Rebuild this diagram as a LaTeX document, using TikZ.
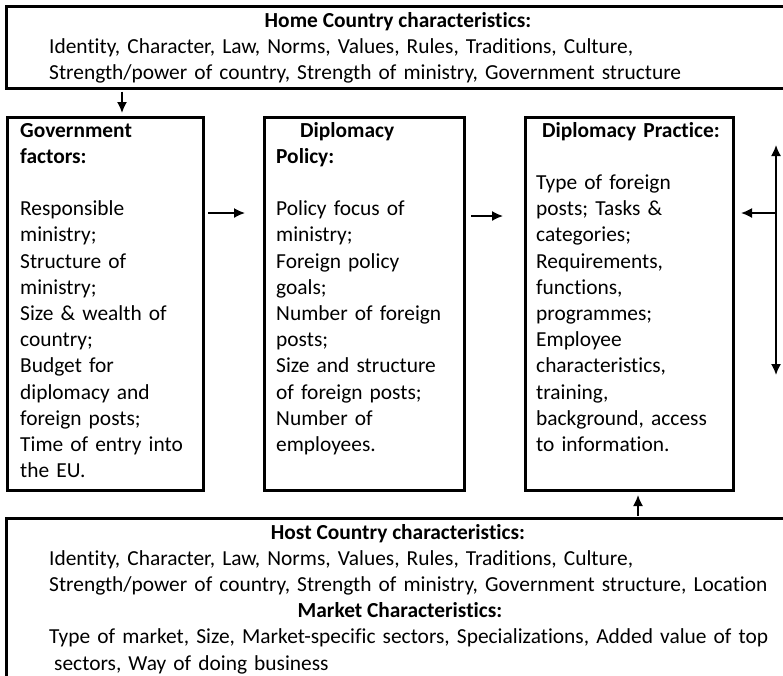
\documentclass[tikz,border=0pt]{standalone}
\usepackage{fontspec}
\setmainfont{Carlito}[Ligatures={NoCommon}]
\usetikzlibrary{shapes,arrows,arrows.meta}

\begin{document}
\begin{tikzpicture}[x=1pt,y=1pt,
                every path/.style={>={Latex[length=11pt,width=10pt]}},
                box/.style={draw,line width=3pt,anchor=north west,inner sep=0pt},
                txt/.style={anchor=base west,inner sep=0pt,align=left,text width=250pt,
                            font=\fontsize{21.4}{26.2}\selectfont},
                link/.style={->,line width=1.6pt}]
  \useasboundingbox (0,0) rectangle (783,-675);
  \node[box,minimum width=790,minimum height=82]  (home) at (5,-5)     {};
  \node[box,minimum width=196,minimum height=373] (gov)  at (6,-116)   {};
  \node[box,minimum width=200,minimum height=373] (pol)  at (263,-116) {};
  \node[box,minimum width=208,minimum height=373] (prac) at (524,-116) {};
  \node[box,minimum width=790,minimum height=200] (host) at (5,-517)   {};

  \node[txt,text width=,anchor=base] (hometitle) at (398,-27) {\textbf{Home Country characteristics:}};
  \node[txt,text width=740pt] (hometext) at (49,-53)
    {Identity, Character, Law, Norms, Values, Rules, Traditions, Culture,\\
     Strength/power of country, Strength of ministry, Government structure};

  \node[txt] (govtext) at (20,-137)
    {\textbf{Government}\\\textbf{factors:}\\[\baselineskip]
     Responsible\\ministry;\\Structure of\\ministry;\\Size \& wealth of\\country;\\
     Budget for\\diplomacy and\\foreign posts;\\Time of entry into\\the EU.};
  \node[txt] (poltext) at (276,-137)
    {\hspace{24pt}\textbf{Diplomacy}\\\textbf{Policy:}\\[\baselineskip]
     Policy focus of\\ministry;\\Foreign policy\\goals;\\Number of foreign\\posts;\\
     Size and structure\\of foreign posts;\\Number of\\employees.};
  \node[txt] (practext) at (536,-137)
    {\hspace{6pt}\textbf{Diplomacy Practice:}\\[\baselineskip]
     Type of foreign\\posts; Tasks \&\\categories;\\Requirements,\\functions,\\
     programmes;\\Employee\\characteristics,\\training,\\background, access\\to information.};

  \node[txt,text width=,anchor=base] (hosttitle) at (398,-539) {\textbf{Host Country characteristics:}};
  \node[txt,text width=740pt] (hosttext) at (49,-565.2)
    {Identity, Character, Law, Norms, Values, Rules, Traditions, Culture,\\
     Strength/power of country, Strength of ministry, Government structure, Location};
  \node[txt,text width=,anchor=base] (markettitle) at (400,-617.6) {\textbf{Market Characteristics:}};
  \node[txt,text width=740pt] (markettext) at (49,-643.8)
    {Type of market, Size, Market-specific sectors, Specializations, Added value of top\\
     \hspace{5pt}sectors, Way of doing business};

  \coordinate (a1) at (122,0);
  \coordinate (a2) at (0,-213);
  \coordinate (a3) at (0,-216);
  \coordinate (a4) at (638,0);
  \coordinate (vtop) at (776,-145);
  \coordinate (vbot) at (776,-375);

  \draw[link,shorten <=1.5pt,shorten >=3pt] (home.south -| a1) -- (gov.north -| a1);
  \draw[link,shorten <=3pt,shorten >=18pt] (gov.east |- a2) -- (pol.west |- a2);
  \draw[link,shorten <=5pt,shorten >=21pt] (pol.east |- a3) -- (prac.west |- a3);
  \draw[link,<->] (vtop) -- (vbot);
  \draw[link] (vtop |- a2) -- ([xshift=6pt]prac.east |- a2);
  \draw[link,shorten <=1.5pt,shorten >=3pt] (host.north -| a4) -- (prac.south -| a4);
\end{tikzpicture}
\end{document}
